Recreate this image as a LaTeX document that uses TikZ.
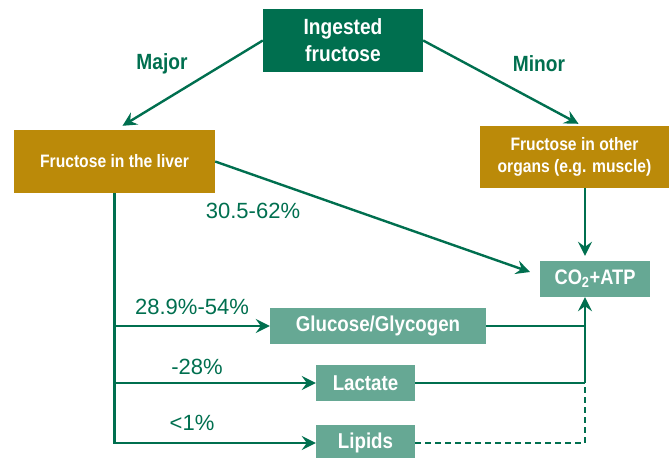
\documentclass[tikz,border=0pt]{standalone}
\usepackage{fontspec}
\setmainfont{Liberation Sans}
\newfontfamily\cond{Liberation Sans}[FakeStretch=0.87]
\usetikzlibrary{arrows.meta}
\definecolor{dgreen}{HTML}{006F4F}
\definecolor{gold}{HTML}{BB8A09}
\definecolor{lgreen}{HTML}{66A894}
\begin{document}
\begin{tikzpicture}[x=1pt,y=-1pt,
  box/.style={inner sep=0pt, text=white, align=center},
  dbox/.style={box, fill=dgreen},
  gbox/.style={box, fill=gold},
  lbox/.style={box, fill=lgreen},
  conn/.style={draw=dgreen, line width=2.4pt},
  arr/.style={conn, -{Stealth[length=14pt,width=14pt,inset=5pt]}},
  lab/.style={text=dgreen, inner sep=0pt, font=\fontsize{22}{24}\selectfont},
  way/.style={text=dgreen, inner sep=0pt, font=\cond\bfseries\fontsize{22}{24}\selectfont}]
\useasboundingbox (0,0) rectangle (670,458);
% boxes
\node[dbox, minimum width=160pt, minimum height=63pt, font=\cond\bfseries\fontsize{22}{27}\selectfont] (ing) at (343,40.5) {Ingested\\fructose};
\node[gbox, minimum width=201pt, minimum height=63pt, font=\cond\bfseries\fontsize{18}{22}\selectfont] (liver) at (114.5,161.5) {Fructose in the liver};
\node[gbox, minimum width=189pt, minimum height=62pt, font=\cond\bfseries\fontsize{18}{22}\selectfont] (other) at (574.5,157) {Fructose in other\\organs (e.g. muscle)};
\node[lbox, minimum width=110pt, minimum height=36pt, font=\cond\bfseries\fontsize{21}{24}\selectfont] (co2) at (595,279) {CO\textsubscript{2}+ATP};
\node[lbox, minimum width=216pt, minimum height=36pt, font=\cond\bfseries\fontsize{21.5}{24}\selectfont] (glu) at (378,326) {Glucose/Glycogen};
\node[lbox, minimum width=99pt, minimum height=36pt, font=\cond\bfseries\fontsize{21.5}{24}\selectfont] (lac) at (365.5,383) {Lactate};
\node[lbox, minimum width=99pt, minimum height=36pt, font=\cond\bfseries\fontsize{21.5}{24}\selectfont] (lip) at (365.5,443) {Lipids};
% labels
\node[way] (major) at (162,64) {Major};
\node[way] (minor) at (539,64) {Minor};
\node[lab] (l1) at (253,211) {30.5-62\%};
\node[lab] (l2) at (192,307) {28.9\%-54\%};
\node[lab] (l3) at (197,367) {-28\%};
\node[lab] (l4) at (192,423) {<1\%};
% helper coordinates
\coordinate (rx) at (585,0);
\coordinate (tipco) at (530,272);
% connectors
\draw[arr] (ing.west) -- ([xshift=8pt,yshift=4pt]liver.north);
\draw[arr] (ing.east) -- ([xshift=4pt,yshift=2pt]other.north);
\draw[arr] (liver.east) -- (tipco);
\draw[arr, shorten >=5pt] (other.south -| rx) -- (co2.north -| rx);
\draw[conn] (glu.east) -- (glu.east -| rx);
\draw[arr] (lac.east -| rx) -- (co2.south -| rx);
\draw[conn] (lac.east) -- (lac.east -| rx);
\draw[conn, dashed, dash pattern=on 6pt off 4pt] (lip.east) -| (lac.east -| rx);
\draw[arr] (liver.south) |- (lip.west);
\draw[arr] (liver.south |- glu.west) -- (glu.west);
\draw[arr] (liver.south |- lac.west) -- (lac.west);
\end{tikzpicture}
\end{document}
